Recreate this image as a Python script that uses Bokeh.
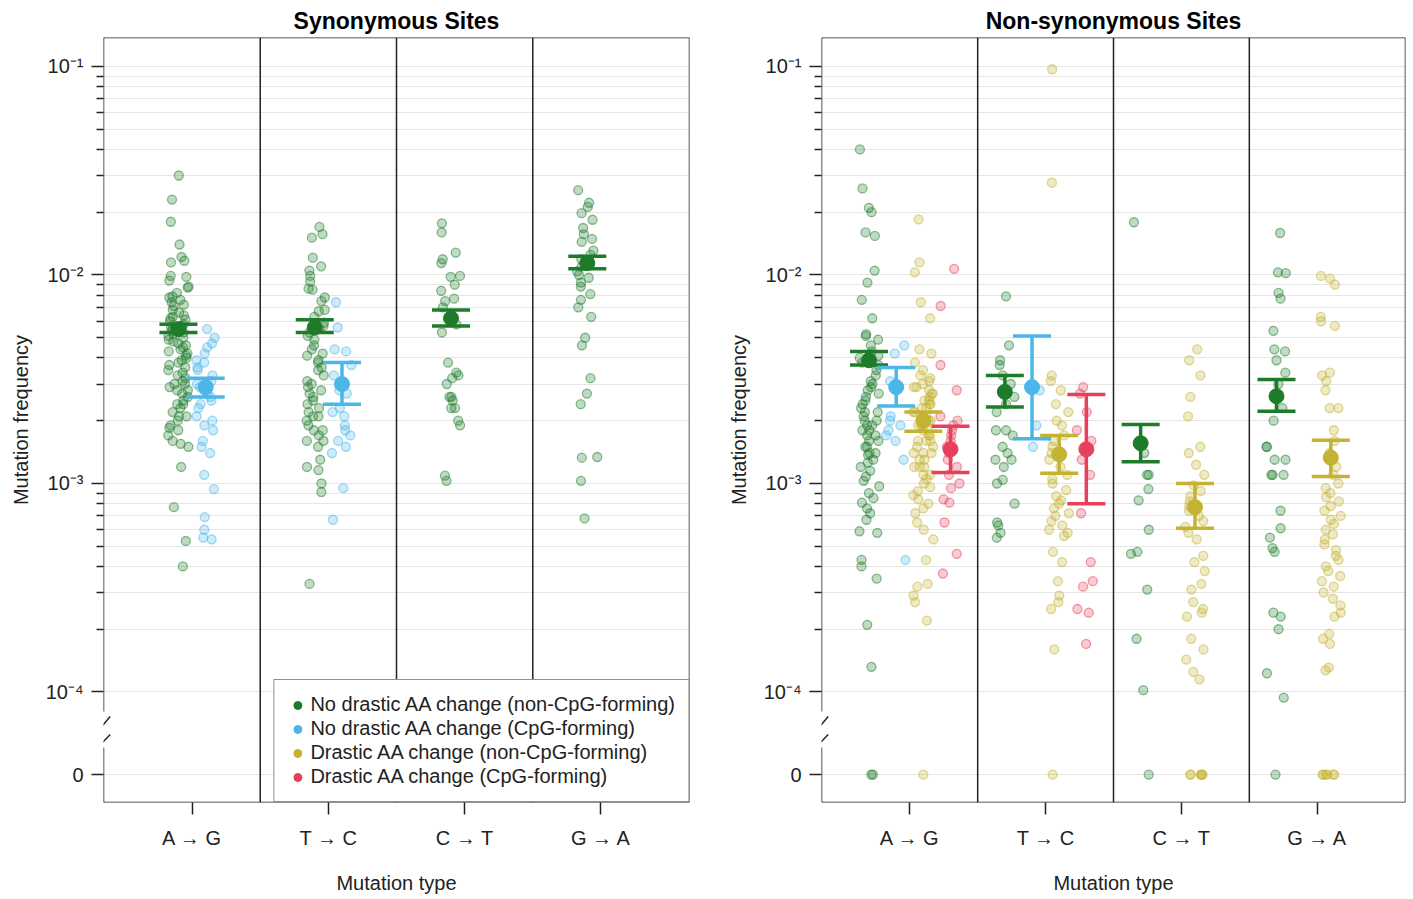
from bokeh.plotting import figure
from bokeh.models import (ColumnDataSource, FixedTicker, CustomJSTickFormatter, Span,
                          Legend, LegendItem, Arrow, Range1d)
from bokeh.transform import jitter
from bokeh.layouts import row
from bokeh.embed import file_html
from bokeh.resources import INLINE

# ---------------- data ----------------
categories = ["A → G", "T → C", "C → T", "G → A"]
groups = ["No drastic AA change (non-CpG-forming)",
          "No drastic AA change (CpG-forming)",
          "Drastic AA change (non-CpG-forming)",
          "Drastic AA change (CpG-forming)"]
colors = ["#1E7B2A", "#4BB6E8", "#C4B233", "#E6405D"]

# Synonymous sites: per-site mutation frequencies
syn_AG_noCpG = [0.030, 0.023, 0.018, 0.014, 0.0122, 0.0117, 0.0115, 0.0099, 0.0098, 0.0094, 0.0088,
                0.0087, 0.0082, 0.0079, 0.0078, 0.0076, 0.0074, 0.0072, 0.0071, 0.0068, 0.0066, 0.0064,
                0.0063, 0.0062, 0.0061, 0.0060, 0.0058, 0.0057, 0.0056, 0.0055, 0.0055, 0.0054, 0.0053,
                0.0052, 0.0051, 0.0050, 0.0049, 0.0048, 0.0047, 0.0046, 0.0045, 0.0044, 0.0043, 0.0042,
                0.0041, 0.0040, 0.0039, 0.0038, 0.0037, 0.0036, 0.0035, 0.0034, 0.0033, 0.0032, 0.0031,
                0.0030, 0.0030, 0.0029, 0.0028, 0.0028, 0.0027, 0.0026, 0.0025, 0.0024, 0.0024, 0.0023,
                0.0022, 0.0021, 0.0021, 0.0020, 0.0019, 0.00185, 0.0018, 0.0017, 0.0016, 0.00155, 0.0015,
                0.0012, 0.00077, 0.00053, 0.00040]
syn_AG_CpG = [0.0055, 0.0050, 0.0047, 0.0045, 0.0042, 0.0039, 0.0038, 0.0036, 0.0035, 0.0033, 0.0031,
              0.0030, 0.0029, 0.0028, 0.0027, 0.0026, 0.0025, 0.0024, 0.0023, 0.0021, 0.0020, 0.0019,
              0.0018, 0.0016, 0.0015, 0.0014, 0.0011, 0.00094, 0.00069, 0.00060, 0.00055, 0.00054]
syn_TC_noCpG = [0.017, 0.0157, 0.0151, 0.0121, 0.011, 0.0105, 0.0099, 0.0093, 0.0086, 0.0085, 0.0078,
                0.0075, 0.0068, 0.0067, 0.0063, 0.0059, 0.0057, 0.0055, 0.0053, 0.0051, 0.0049, 0.0046,
                0.0044, 0.0042, 0.0041, 0.0039, 0.0038, 0.0036, 0.0035, 0.0033, 0.0031, 0.0030, 0.0029,
                0.0028, 0.0027, 0.0026, 0.0025, 0.0024, 0.0023, 0.0022, 0.0021, 0.0021, 0.0020, 0.0019,
                0.0018, 0.0018, 0.0017, 0.0016, 0.0016, 0.0015, 0.0013, 0.0012, 0.00116, 0.0010, 0.00091,
                0.00033]
syn_TC_CpG = [0.0074, 0.0056, 0.0044, 0.0043, 0.0037, 0.0033, 0.0028, 0.0027, 0.0023, 0.0022, 0.0021,
              0.0019, 0.0018, 0.0017, 0.0016, 0.0015, 0.0014, 0.00095, 0.00067]
syn_CT_noCpG = [0.0177, 0.016, 0.0128, 0.0119, 0.0114, 0.0099, 0.0098, 0.0090, 0.0084, 0.0077, 0.0075,
                0.0070, 0.0058, 0.0053, 0.0038, 0.0034, 0.0033, 0.0032, 0.0030, 0.0026, 0.0026, 0.0025,
                0.0023, 0.0023, 0.0020, 0.0019, 0.00109, 0.00103]
syn_GA_noCpG = [0.0255, 0.0222, 0.0212, 0.0198, 0.0184, 0.0168, 0.0157, 0.0149, 0.0144, 0.0131, 0.0125,
                0.0119, 0.0115, 0.0110, 0.0104, 0.0100, 0.0097, 0.0092, 0.0088, 0.0081, 0.0076, 0.0070,
                0.0063, 0.0050, 0.0046, 0.0032, 0.0027, 0.0024, 0.00134, 0.00133, 0.00103, 0.00068]

# Synonymous sites: means with 95% CI
syn_mean_cat = ["A → G", "A → G", "T → C", "T → C", "C → T", "G → A"]
syn_mean_grp = [0, 1, 0, 1, 0, 0]
syn_mean = [0.0055, 0.0029, 0.0056, 0.0030, 0.0062, 0.0114]
syn_low = [0.0053, 0.0026, 0.0053, 0.0024, 0.0057, 0.0107]
syn_high = [0.0058, 0.0032, 0.0061, 0.0038, 0.0068, 0.0123]

# Non-synonymous sites: per-site mutation frequencies (0 = no mutation observed)
non_AG_mild_noCpG = [0.040, 0.026, 0.021, 0.020, 0.016, 0.0154, 0.0105, 0.0092, 0.0076, 0.0062, 0.0052,
                     0.0051, 0.0049, 0.0046, 0.0043, 0.0041, 0.0040, 0.0038, 0.0037, 0.0035, 0.0033,
                     0.0031, 0.0030, 0.0029, 0.0028, 0.0027, 0.0026, 0.0025, 0.0024, 0.0023, 0.0022,
                     0.0022, 0.0021, 0.0020, 0.0020, 0.0019, 0.0019, 0.0018, 0.0018, 0.0017, 0.0017,
                     0.0016, 0.0016, 0.0015, 0.0015, 0.0014, 0.0014, 0.00137, 0.0013, 0.00126, 0.0012,
                     0.00115, 0.00108, 0.00103, 0.00097, 0.0009, 0.00085, 0.00081, 0.00076, 0.00072,
                     0.00067, 0.00059, 0.00058, 0.00043, 0.00040, 0.00035, 0.00021, 0.000132, 0, 0]
non_AG_mild_CpG = [0.0046, 0.0042, 0.0031, 0.0021, 0.0020, 0.0019, 0.0018, 0.0017, 0.0016, 0.0013,
                   0.00043]
non_AG_drastic_noCpG = [0.0185, 0.0115, 0.0103, 0.0074, 0.0062, 0.0044, 0.0042, 0.0038, 0.0035, 0.0033,
                        0.0032, 0.0031, 0.0030, 0.0029, 0.0029, 0.0028, 0.0027, 0.0027, 0.0026, 0.0025,
                        0.0025, 0.0024, 0.0024, 0.0023, 0.0023, 0.0022, 0.0022, 0.0021, 0.0021, 0.0020,
                        0.0020, 0.0019, 0.0019, 0.0018, 0.0018, 0.0017, 0.0017, 0.0016, 0.0016, 0.0016,
                        0.0015, 0.0015, 0.0014, 0.0014, 0.0014, 0.0013, 0.0013, 0.0012, 0.0012, 0.0012,
                        0.0011, 0.0011, 0.00105, 0.0010, 0.00096, 0.00092, 0.00088, 0.00084, 0.0008,
                        0.00076, 0.00072, 0.00065, 0.0006, 0.00054, 0.00043, 0.00033, 0.00032, 0.00029,
                        0.00027, 0.00022, 0]
non_AG_drastic_CpG = [0.0107, 0.0071, 0.0037, 0.0028, 0.0021, 0.0020, 0.0019, 0.0018, 0.0017, 0.0016,
                      0.0015, 0.0014, 0.0013, 0.0012, 0.0011, 0.0010, 0.00095, 0.00084, 0.00081, 0.00065,
                      0.00046, 0.00037]
non_TC_mild_noCpG = [0.0079, 0.0046, 0.0039, 0.0037, 0.0033, 0.0030, 0.0028, 0.0026, 0.0024, 0.0022,
                     0.0018, 0.0018, 0.0017, 0.0015, 0.0014, 0.0013, 0.0013, 0.0012, 0.00104, 0.0010,
                     0.0008, 0.00065, 0.00063, 0.00058, 0.00055]
non_TC_mild_CpG = [0.0028, 0.0019, 0.0015]
non_TC_drastic_noCpG = [0.097, 0.0277, 0.0033, 0.0031, 0.0028, 0.0024, 0.0022, 0.0020, 0.0019, 0.0017,
                        0.0016, 0.0015, 0.0014, 0.0013, 0.0012, 0.0011, 0.00105, 0.0010, 0.00093,
                        0.00087, 0.00083, 0.0008, 0.00076, 0.00072, 0.0007, 0.00066, 0.00063, 0.0006,
                        0.00058, 0.00056, 0.00047, 0.00042, 0.00034, 0.00029, 0.00027, 0.00025, 0.00016, 0]
non_TC_drastic_CpG = [0.0029, 0.0027, 0.0022, 0.0018, 0.0016, 0.0015, 0.0013, 0.0011, 0.00072, 0.00042,
                      0.00034, 0.00032, 0.00025, 0.00024, 0.00017]
non_CT_mild_noCpG = [0.0179, 0.0016, 0.0014, 0.0011, 0.0011, 0.00094, 0.00083, 0.0006, 0.00047, 0.00046,
                     0.00031, 0.00018, 0.000102, 0]
non_CT_drastic_noCpG = [0.0044, 0.0039, 0.0033, 0.0026, 0.0021, 0.0015, 0.0014, 0.00123, 0.0011,
                        0.00098, 0.00092, 0.00087, 0.00082, 0.00078, 0.00074, 0.0007, 0.00066, 0.00062,
                        0.00058, 0.00054, 0.00045, 0.00042, 0.00038, 0.00033, 0.00031, 0.00027, 0.00025,
                        0.00024, 0.00023, 0.00018, 0.00016, 0.000143, 0.000125, 0.000115, 0, 0, 0, 0, 0, 0]
non_GA_mild_noCpG = [0.0159, 0.0103, 0.0102, 0.0082, 0.0077, 0.0054, 0.0044, 0.0043, 0.0039, 0.0034,
                     0.0030, 0.0026, 0.0023, 0.0020, 0.0015, 0.0015, 0.0013, 0.0013, 0.0011, 0.0011,
                     0.0011, 0.00074, 0.00061, 0.00055, 0.00049, 0.00047, 0.00024, 0.00023, 0.0002,
                     0.000123, 0.000094, 0]
non_GA_drastic_noCpG = [0.0099, 0.0096, 0.0090, 0.0063, 0.0060, 0.0057, 0.0034, 0.0033, 0.0031, 0.0028,
                        0.0023, 0.0023, 0.0018, 0.0016, 0.0014, 0.0012, 0.0011, 0.0010, 0.00095, 0.0009,
                        0.00086, 0.00082, 0.00078, 0.00074, 0.0007, 0.00067, 0.00064, 0.0006, 0.00057,
                        0.00054, 0.00051, 0.00048, 0.00045, 0.00043, 0.0004, 0.00038, 0.00036, 0.00034,
                        0.00032, 0.0003, 0.00028, 0.00026, 0.00024, 0.00023, 0.00019, 0.00018, 0.00017,
                        0.000131, 0.000127, 0, 0, 0, 0, 0, 0]

# Non-synonymous sites: means with 95% CI
non_mean_cat = ["A → G", "A → G", "A → G", "A → G", "T → C", "T → C", "T → C", "T → C",
                "C → T", "C → T", "G → A", "G → A"]
non_mean_grp = [0, 1, 2, 3, 0, 1, 2, 3, 0, 2, 0, 2]
non_mean = [0.0039, 0.0029, 0.0020, 0.00146, 0.00275, 0.0029, 0.00138, 0.00146, 0.00156, 0.00077,
            0.00262, 0.00133]
non_low = [0.0037, 0.00235, 0.00178, 0.00113, 0.00233, 0.00164, 0.00112, 0.00080, 0.00127, 0.00061,
           0.00222, 0.00108]
non_high = [0.0043, 0.0036, 0.0022, 0.00188, 0.0033, 0.0051, 0.0017, 0.00267, 0.00192, 0.0010,
            0.00315, 0.00161]

# ---------------- styling / layout ----------------
FONT = "Liberation Sans"
INK = "#222222"
ZERO_AT = 10 ** -4.396          # where the "0" level sits below the axis break
Y_START, Y_END = 10 ** -4.53, 10 ** -0.861
X_START, X_END = 0.35, 4.65
FRAME_H = 765
NAN = float("nan")


def build_panel(title, series, m_cat, m_grp, m_mean, m_low, m_high, offsets,
                frame_w, b_left, b_right, with_legend):
    p = figure(frame_width=frame_w, frame_height=FRAME_H,
               x_range=Range1d(X_START, X_END), y_range=Range1d(Y_START, Y_END),
               y_axis_type="log", output_backend="svg", toolbar_location=None,
               min_border_left=b_left, min_border_right=b_right,
               min_border_top=37, min_border_bottom=88,
               outline_line_color=None, background_fill_color="white",
               border_fill_color="white")

    # title
    p.title.text = title
    p.title.align = "center"
    p.title.text_font = FONT
    p.title.text_font_size = "23px"
    p.title.text_font_style = "bold"
    p.title.text_color = "black"
    p.title.standoff = 7

    # y axis
    majors = [ZERO_AT, 1e-4, 1e-3, 1e-2, 1e-1]
    minors = [k * 10.0 ** e for e in (-4, -3, -2) for k in range(2, 10)]
    yt = FixedTicker(ticks=majors, minor_ticks=minors)
    ax = p.yaxis[0]
    ax.ticker = yt
    ax.formatter = CustomJSTickFormatter(code="""
        if (tick < 5e-5) { return '0'; }
        const e = Math.round(Math.log10(tick));
        const sup = {'-1': '\u207b\u00b9', '-2': '\u207b\u00b2', '-3': '\u207b\u00b3', '-4': '\u207b\u2074'};
        return '10' + sup[String(e)];
    """)
    ax.axis_label = "Mutation frequency"
    ax.axis_line_color = None
    ax.major_tick_out = 12
    ax.major_tick_in = 0
    ax.minor_tick_out = 7
    ax.minor_tick_in = 0
    ax.major_tick_line_color = INK
    ax.major_tick_line_width = 1.5
    ax.minor_tick_line_color = INK
    ax.minor_tick_line_width = 1.5
    ax.major_label_text_font = FONT
    ax.major_label_text_font_size = "20px"
    ax.major_label_text_color = INK
    ax.major_label_standoff = 8
    ax.axis_label_text_font = FONT
    ax.axis_label_text_font_size = "20px"
    ax.axis_label_text_font_style = "normal"
    ax.axis_label_text_color = INK
    ax.axis_label_standoff = 11

    # x axis
    xa = p.xaxis[0]
    xa.ticker = FixedTicker(ticks=[i + 1 for i in range(len(categories))])
    xa.major_label_overrides = {i + 1: c for i, c in enumerate(categories)}
    xa.axis_label = "Mutation type"
    xa.axis_line_color = None
    xa.major_tick_out = 12
    xa.major_tick_in = 0
    xa.minor_tick_line_color = None
    xa.major_tick_line_color = INK
    xa.major_tick_line_width = 1.5
    xa.major_label_text_font = FONT
    xa.major_label_text_font_size = "20px"
    xa.major_label_text_color = INK
    xa.major_label_standoff = 12
    xa.axis_label_text_font = FONT
    xa.axis_label_text_font_size = "20px"
    xa.axis_label_text_font_style = "normal"
    xa.axis_label_text_color = INK
    xa.axis_label_standoff = 20

    # grid
    p.xgrid.visible = False
    p.ygrid.ticker = yt
    p.ygrid.grid_line_color = "#e6e6e6"
    p.ygrid.grid_line_width = 1.2
    p.ygrid.minor_grid_line_color = "#e6e6e6"
    p.ygrid.minor_grid_line_width = 1.2

    # jittered points
    for g in range(len(groups)):
        xs, ys = [], []
        for (ci, gi, vals) in series:
            if gi != g:
                continue
            for v in vals:
                xs.append(ci + 1 + offsets[g])
                ys.append(v if v > 0 else ZERO_AT)
        if not xs:
            continue
        src = ColumnDataSource(dict(x=xs, y=ys))
        p.scatter(x=jitter("x", width=0.15), y="y", source=src, size=9,
                  fill_color=colors[g], fill_alpha=0.28,
                  line_color=colors[g], line_alpha=0.5, line_width=1.3)

    # means with CIs
    for g in range(len(groups)):
        idx = [i for i, gg in enumerate(m_grp) if gg == g]
        if not idx:
            continue
        src = ColumnDataSource(dict(
            x=[categories.index(m_cat[i]) + 1 + offsets[g] for i in idx],
            mean=[m_mean[i] for i in idx],
            lo=[m_low[i] for i in idx],
            hi=[m_high[i] for i in idx]))
        c = colors[g]
        p.segment(x0="x", y0="lo", x1="x", y1="hi", source=src, line_color=c, line_width=3.5)
        p.scatter(x="x", y="lo", source=src, marker="dash", size=38, line_color=c, line_width=3.5)
        p.scatter(x="x", y="hi", source=src, marker="dash", size=38, line_color=c, line_width=3.5)
        p.scatter(x="x", y="mean", source=src, size=15, fill_color=c, line_color=c)

    # frame lines and separators
    for loc in (Y_START, Y_END):
        p.add_layout(Span(location=loc, dimension="width", line_color=INK, line_width=1.5))
    p.add_layout(Span(location=X_END, dimension="height", line_color=INK, line_width=1.5))
    for i in range(len(categories) - 1):
        p.add_layout(Span(location=i + 1.5, dimension="height", line_color=INK, line_width=1.5))
    gap_top, gap_bot = 10 ** -4.094, 10 ** -4.266
    p.add_layout(Arrow(end=None, x_start=X_START, y_start=Y_END, x_end=X_START, y_end=gap_top,
                       line_color=INK, line_width=1.5))
    p.add_layout(Arrow(end=None, x_start=X_START, y_start=gap_bot, x_end=X_START, y_end=Y_START,
                       line_color=INK, line_width=1.5))
    dx = 0.049
    for (ya, yb) in ((10 ** -4.1175, 10 ** -4.194), (10 ** -4.204, 10 ** -4.271)):
        p.add_layout(Arrow(end=None, x_start=X_START + dx, y_start=ya, x_end=X_START - dx, y_end=yb,
                           line_color=INK, line_width=1.5))

    if with_legend:
        items = []
        for g in range(len(groups)):
            # key glyph only: one undefined (NaN) point, so nothing is drawn in the plot area
            r = p.scatter(x=[NAN], y=[NAN], size=8, fill_color=colors[g], line_color=colors[g])
            items.append(LegendItem(label=groups[g], renderers=[r], index=0))
        leg = Legend(items=items, location="bottom_right", margin=0, padding=13, spacing=1,
                     glyph_width=20, glyph_height=20, label_standoff=3,
                     label_text_font=FONT, label_text_font_size="20px", label_text_color=INK,
                     border_line_color=INK, border_line_width=1.5,
                     background_fill_color="white", background_fill_alpha=1.0)
        p.add_layout(leg)
    return p


syn_series = [(0, 0, syn_AG_noCpG), (0, 1, syn_AG_CpG), (1, 0, syn_TC_noCpG), (1, 1, syn_TC_CpG),
              (2, 0, syn_CT_noCpG), (3, 0, syn_GA_noCpG)]
non_series = [(0, 0, non_AG_mild_noCpG), (0, 1, non_AG_mild_CpG), (0, 2, non_AG_drastic_noCpG),
              (0, 3, non_AG_drastic_CpG), (1, 0, non_TC_mild_noCpG), (1, 1, non_TC_mild_CpG),
              (1, 2, non_TC_drastic_noCpG), (1, 3, non_TC_drastic_CpG), (2, 0, non_CT_mild_noCpG),
              (2, 2, non_CT_drastic_noCpG), (3, 0, non_GA_mild_noCpG), (3, 2, non_GA_drastic_noCpG)]

p1 = build_panel("Synonymous Sites", syn_series, syn_mean_cat, syn_mean_grp, syn_mean, syn_low,
                 syn_high, {0: -0.1, 1: 0.1}, 586, 103, 32, True)
p2 = build_panel("Non-synonymous Sites", non_series, non_mean_cat, non_mean_grp, non_mean, non_low,
                 non_high, {0: -0.3, 1: -0.1, 2: 0.1, 3: 0.3}, 584, 100, 3, False)

layout = row(p1, p2)
open("out.html", "w", encoding="utf-8").write(file_html(layout, INLINE))
